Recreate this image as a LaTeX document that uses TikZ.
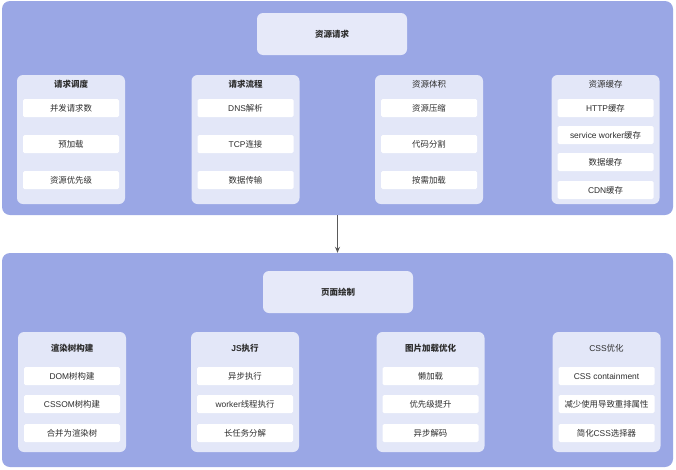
\documentclass[tikz,border=0pt]{standalone}
\usepackage{fontspec}
\newfontfamily\cjk{Noto Sans CJK SC}
\newfontfamily\lat{Liberation Sans}
\newcommand\entxt[1]{{\lat #1}}
\usetikzlibrary{arrows.meta}
\definecolor{panelbg}{HTML}{9AA7E5}
\definecolor{groupbg}{HTML}{E3E7F8}
\definecolor{titlebg}{HTML}{E6E9F9}
\definecolor{arr}{HTML}{5A5A5A}
\definecolor{txt}{HTML}{2E2E2E}
\tikzset{
  panel/.style={fill=panelbg,rounded corners=8pt,minimum width=671pt,minimum height=214pt,inner sep=0pt},
  titlebox/.style={fill=titlebg,rounded corners=6pt,minimum width=150pt,minimum height=42pt,inner sep=0pt,text=txt,font=\cjk\bfseries\fontsize{8.5}{10}\selectfont},
  group/.style={fill=groupbg,rounded corners=6pt,minimum width=108pt,inner sep=0pt},
  item/.style={fill=white,rounded corners=1.5pt,minimum width=96pt,minimum height=18pt,inner sep=0pt,text=txt,font=\cjk\fontsize{8.4}{10}\selectfont},
  head/.style={inner sep=0pt,text=txt,font=\cjk\fontsize{8.5}{10}\selectfont},
}

\begin{document}
\begin{tikzpicture}[x=1pt,y=-1pt]
\useasboundingbox (0,0) rectangle (676,469);
% two big panels
\node[panel] (req) at (337.5,108) {};
\node[panel] (paint) at (337.5,360) {};
\draw[arr,line width=0.9pt,-{Stealth[length=6pt,width=5pt]}] (req.south) -- (paint.north);
\node[titlebox] (reqtitle) at (332,34) {资源请求};
\node[titlebox] (painttitle) at (338,292) {页面绘制};
% groups of the top panel
\foreach \gx/\gn/\gh/\gb in {71/sched/请求调度/1,245.5/flow/请求流程/1,429/size/资源体积/0,605.5/cache/资源缓存/0}{
  \node[group,minimum height=129pt] (\gn) at (\gx,139.5) {};
  \ifnum\gb=1
    \node[head,font=\cjk\bfseries\fontsize{8.5}{10}\selectfont] (\gn-head) at (\gx,84) {\gh};
  \else
    \node[head] (\gn-head) at (\gx,84) {\gh};
  \fi
}
\foreach \t/\y [count=\i] in {并发请求数/108,预加载/144,资源优先级/180}
  \node[item] (sched-\i) at (sched.center |- 0,\y) {\t};
\foreach \t/\y [count=\i] in {\entxt{DNS}解析/108,\entxt{TCP}连接/144,数据传输/180}
  \node[item] (flow-\i) at (flow.center |- 0,\y) {\t};
\foreach \t/\y [count=\i] in {资源压缩/108,代码分割/144,按需加载/180}
  \node[item] (size-\i) at (size.center |- 0,\y) {\t};
\foreach \t/\y [count=\i] in {\entxt{HTTP}缓存/108,\entxt{service worker}缓存/135,数据缓存/162,\entxt{CDN}缓存/190}
  \node[item] (cache-\i) at (cache.center |- 0,\y) {\t};
% groups of the bottom panel
\foreach \gx/\gn/\gh/\gb in {72/render/渲染树构建/1,245/js/\entxt{JS}执行/1,430.5/img/图片加载优化/1,606.5/css/\entxt{CSS}优化/0}{
  \node[group,minimum height=120pt] (\gn) at (\gx,392) {};
  \ifnum\gb=1
    \node[head,font=\cjk\bfseries\fontsize{8.5}{10}\selectfont] (\gn-head) at (\gx,348) {\gh};
  \else
    \node[head] (\gn-head) at (\gx,348) {\gh};
  \fi
}
\foreach \t/\y [count=\i] in {\entxt{DOM}树构建/376,\entxt{CSSOM}树构建/404,合并为渲染树/433}
  \node[item] (render-\i) at (render.center |- 0,\y) {\t};
\foreach \t/\y [count=\i] in {异步执行/376,\entxt{worker}线程执行/404,长任务分解/433}
  \node[item] (js-\i) at (js.center |- 0,\y) {\t};
\foreach \t/\y [count=\i] in {懒加载/376,优先级提升/404,异步解码/433}
  \node[item] (img-\i) at (img.center |- 0,\y) {\t};
\foreach \t/\y [count=\i] in {\entxt{CSS containment}/376,减少使用导致重排属性/404,简化\entxt{CSS}选择器/433}
  \node[item] (css-\i) at (css.center |- 0,\y) {\t};
\end{tikzpicture}
\end{document}
